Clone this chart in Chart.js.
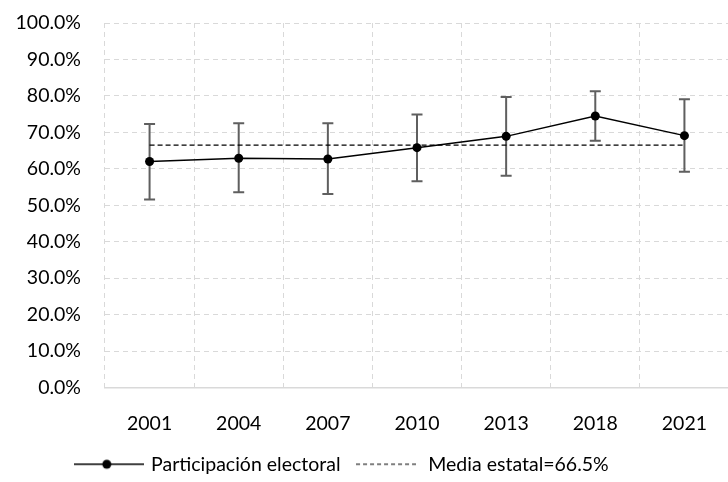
<!DOCTYPE html>
<html>
<head>
<meta charset="utf-8">
<script src="https://cdn.jsdelivr.net/npm/chart.js@4.4.1/dist/chart.umd.min.js"></script>
<style>
  html, body { margin: 0; padding: 0; background: #fff; overflow: hidden; }
  #wrap { position: relative; width: 734px; height: 482px; }
</style>
</head>
<body>
<div id="wrap"><canvas id="c"></canvas></div>
<script>
const years = ['2001', '2004', '2007', '2010', '2013', '2018', '2021'];
const participation = [62.0, 62.9, 62.7, 65.8, 68.9, 74.5, 69.1];
const upperBound = [72.3, 72.5, 72.5, 74.9, 79.7, 81.3, 79.1];
const lowerBound = [51.6, 53.6, 53.1, 56.6, 58.1, 67.7, 59.2];
const stateMean = 66.5;
const seriesNames = ['Participación electoral', 'Media estatal=66.5%'];

const FONT = 'Lato, "Open Sans", sans-serif';
const FS = 19.5;
const TXT = '#000000';

function lineDotIcon() {
  const c = document.createElement('canvas');
  c.width = 70; c.height = 12;
  const g = c.getContext('2d');
  g.strokeStyle = '#000'; g.lineWidth = 1.5;
  g.beginPath(); g.moveTo(0, 6); g.lineTo(70, 6); g.stroke();
  g.fillStyle = '#000';
  g.beginPath(); g.arc(33, 6, 4.5, 0, Math.PI * 2); g.fill();
  return c;
}
function dashIcon() {
  const c = document.createElement('canvas');
  c.width = 60; c.height = 12;
  const g = c.getContext('2d');
  g.strokeStyle = '#000'; g.lineWidth = 1.2;
  g.setLineDash([4, 3]);
  g.beginPath(); g.moveTo(0, 6); g.lineTo(60, 6); g.stroke();
  return c;
}

const errorBars = {
  id: 'errorBars',
  beforeDatasetsDraw(chart) {
    const ctx = chart.ctx;
    const xs = chart.scales.x, ys = chart.scales.y;
    ctx.save();
    ctx.strokeStyle = '#5f5f5f';
    ctx.lineWidth = 2;
    for (let i = 0; i < years.length; i++) {
      const x = xs.getPixelForValue(i);
      const yh = ys.getPixelForValue(upperBound[i]);
      const yl = ys.getPixelForValue(lowerBound[i]);
      ctx.beginPath();
      ctx.moveTo(x, yh); ctx.lineTo(x, yl);
      ctx.moveTo(x - 5.5, yh); ctx.lineTo(x + 5.5, yh);
      ctx.moveTo(x - 5.5, yl); ctx.lineTo(x + 5.5, yl);
      ctx.stroke();
    }
    ctx.restore();
  }
};

const legendShift = {
  id: 'legendShift',
  afterLayout(chart) {
    if (chart.legend) {
      chart.legend.left -= 22;
      chart.legend.right -= 22;
      chart.legend.top += 2;
      chart.legend.bottom += 2;
    }
  }
};

const icons = [lineDotIcon(), dashIcon()];

new Chart(document.getElementById('c'), {
  type: 'line',
  data: {
    labels: years,
    datasets: [
      {
        label: seriesNames[0],
        data: participation,
        borderColor: '#000',
        backgroundColor: '#000',
        borderWidth: 1.5,
        pointRadius: 4.5,
        pointHoverRadius: 4.5,
        pointBackgroundColor: '#000',
        pointBorderWidth: 0,
        tension: 0,
        order: 1
      },
      {
        label: seriesNames[1],
        data: years.map(() => stateMean),
        borderColor: '#000',
        borderWidth: 1.3,
        borderDash: [5, 3],
        pointRadius: 0,
        pointHoverRadius: 0,
        tension: 0,
        order: 2
      }
    ]
  },
  options: {
    responsive: true,
    maintainAspectRatio: false,
    animation: false,
    devicePixelRatio: 1,
    layout: { padding: { left: 0, right: 5, top: 23, bottom: 0 } },
    plugins: {
      tooltip: { enabled: false },
      legend: {
        position: 'bottom',
        labels: {
          usePointStyle: true,
          pointStyleWidth: 65,
          padding: 13,
          color: TXT,
          font: { family: FONT, size: FS },
          generateLabels(chart) {
            return seriesNames.map((n, i) => ({
              text: n,
              pointStyle: icons[i],
              fillStyle: '#000',
              strokeStyle: '#000',
              lineWidth: 0,
              hidden: false,
              datasetIndex: i,
              fontColor: TXT
            }));
          }
        }
      }
    },
    scales: {
      x: {
        type: 'category',
        offset: true,
        grid: { display: true, offset: true, color: '#d9d9d9', lineWidth: 1, drawTicks: false },
        border: { display: true, color: '#d9d9d9', width: 1.5, dash: [5, 4] },
        ticks: { color: TXT, font: { family: FONT, size: FS }, padding: 25, maxRotation: 0 },
        afterFit(s) { s.height = 52; }
      },
      y: {
        min: 0, max: 100,
        grid: { color: '#d9d9d9', lineWidth: 1, drawTicks: true, tickLength: 24, tickColor: 'rgba(0,0,0,0)' },
        border: { display: false, dash: [5, 4] },
        ticks: {
          stepSize: 10,
          color: TXT,
          font: { family: FONT, size: FS },
          padding: 0,
          callback: v => v.toFixed(1) + '%'
        },
        afterFit(s) { s.width = 105; }
      }
    }
  },
  plugins: [errorBars, legendShift]
});
</script>
</body>
</html>
